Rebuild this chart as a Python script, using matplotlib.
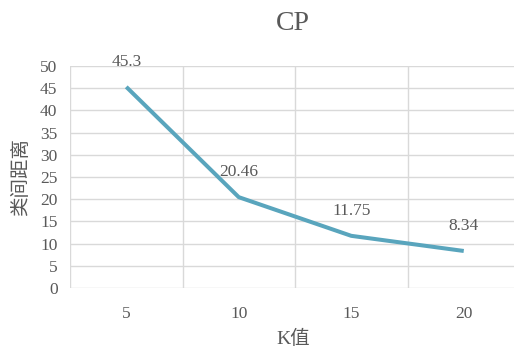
import numpy as np
import matplotlib.pyplot as plt

# data
k_values = ['5', '10', '15', '20']
distance = [45.3, 20.46, 11.75, 8.34]
y_ticks = [0, 5, 10, 15, 20, 25, 30, 35, 40, 45, 50]

fonts = ['Liberation Serif', 'Noto Sans CJK SC']
plt.rcParams['font.family'] = fonts
text_col = '#595959'
grid_col = '#d9d9d9'
line_col = '#59a5bd'

fig = plt.figure(figsize=(5.14, 3.48), dpi=100, facecolor='white')
# plot area runs a little past the right edge, like the reference
ax = fig.add_axes([70 / 514, 60 / 348, 450 / 514, 222 / 348])

x = np.arange(len(k_values))
ax.plot(x, distance, color=line_col, lw=2.9, solid_capstyle='butt', zorder=3)
for xi, v in zip(x, distance):
    ax.annotate(f'{v:g}', (xi, v), xytext=(0, 18), textcoords='offset points',
                ha='center', va='center', fontsize=12.5, color=text_col)

ax.set_xlim(-0.5, len(k_values) - 0.5)
ax.set_ylim(0, 50)
ax.set_xticks(x)
ax.set_xticklabels(k_values)
ax.set_xticks(np.arange(-0.5, len(k_values)), minor=True)
ax.set_yticks(y_ticks)
ax.grid(which='minor', axis='x', color=grid_col, lw=1)
ax.grid(which='major', axis='y', color=grid_col, lw=1)
ax.tick_params(which='both', length=0, colors=text_col, labelsize=12.5)
ax.tick_params(axis='x', pad=13)
ax.tick_params(axis='y', pad=9)
for s in ax.spines.values():
    s.set_visible(False)
ax.set_axisbelow(True)

fig.text(293 / 514, 1 - 23 / 348, 'CP', ha='center', va='center',
         fontsize=20, color=text_col)
fig.text(21 / 514, 1 - 177 / 348, '类间距离', rotation=90, ha='center', va='center',
         fontsize=14, color=text_col)
fig.text(293 / 514, 1 - 339 / 348, 'K值', ha='center', va='center',
         fontsize=14, color=text_col)

fig.savefig('out.png', dpi=100)
